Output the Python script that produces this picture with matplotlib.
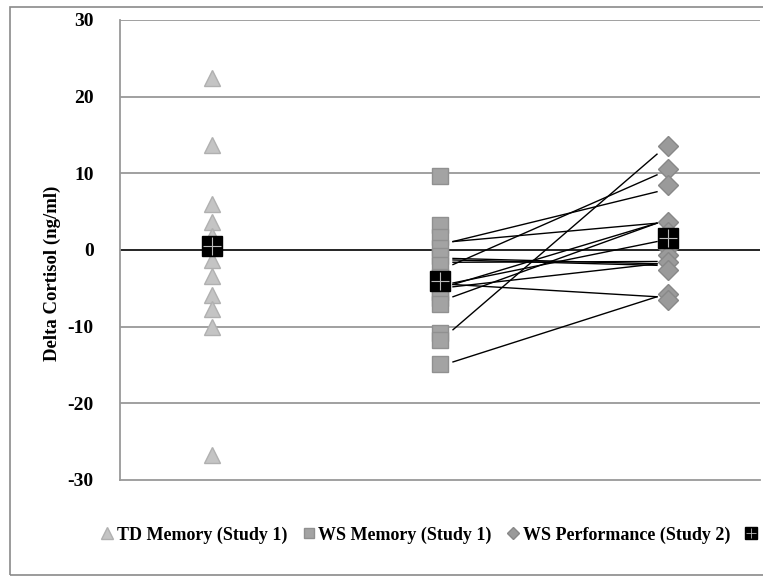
import numpy as np
import matplotlib
matplotlib.use('Agg')
import matplotlib.pyplot as plt
from matplotlib.lines import Line2D
from matplotlib.patches import Rectangle

# values
groups = ['TD Memory (Study 1)', 'WS Memory (Study 1)', 'WS Performance (Study 2)']
td_memory = [22.4, 13.7, 6.0, 3.7, 1.8, -1.3, -3.4, -5.9, -7.7, -10.1, -26.7]
ws_memory = [9.7, 3.2, 1.7, 0.3, -0.8, -2.0, -3.5, -5.5, -6.3, -7.0, -10.8, -11.8, -14.9]
ws_perf = [13.6, 10.6, 8.5, 3.6, 2.4, 0.3, -0.7, -1.5, -2.6, -5.8, -6.5]
group_means = [0.5, -4.0, 1.6]

# paired lines (memory -> performance)
pair_start = [-10.4, -1.9, 1.1, 1.1, -4.5, -6.1, -4.3, -1.1, -1.3, -1.6, -4.8, -4.5, -14.6]
pair_end = [12.5, 9.8, 7.6, 3.5, 3.5, 3.5, 1.1, -1.8, -2.0, -1.5, -1.8, -6.1, -6.1]

plt.rcParams['font.family'] = ['Liberation Serif', 'DejaVu Serif']
plt.rcParams['axes.unicode_minus'] = False

W, H = 763, 576
fig = plt.figure(figsize=(W / 100, H / 100), dpi=100)
ax = fig.add_axes([120 / W, (H - 480) / H, (760 - 120) / W, 460 / H])

fig.patches.append(Rectangle((10 / W, 1 / H), 1.0, (H - 7 - 1) / H, transform=fig.transFigure,
                             fill=False, edgecolor='#8a8a8a', linewidth=1.2, zorder=0))

# paired lines
for a, b in zip(pair_start, pair_end):
  ax.plot([2.057, 2.952], [a, b], color='black', linewidth=1.0, zorder=3)

ax.plot(np.full(len(td_memory), 1.0), td_memory, linestyle='none', marker='^', markersize=12,
        markerfacecolor='#c4c4c4', markeredgecolor='#b0b0b0', zorder=2)
ax.plot(np.full(len(ws_memory), 2.0), ws_memory, linestyle='none', marker='s', markersize=11,
        markerfacecolor='#a3a3a3', markeredgecolor='#909090', zorder=2)
ax.plot(np.full(len(ws_perf), 3.0), ws_perf, linestyle='none', marker='D', markersize=10,
        markerfacecolor='#9a9a9a', markeredgecolor='#888888', zorder=2)

# means: black square with white cross
ax.plot([1, 2, 3], group_means, linestyle='none', marker='s', markersize=14,
        markerfacecolor='black', markeredgecolor='black', zorder=4)
ax.plot([1, 2, 3], group_means, linestyle='none', marker='+', markersize=13,
        markeredgecolor='#bbbbbb', markeredgewidth=0.8, zorder=5)

ax.set_xlim(0.596, 3.404)
ax.set_ylim(-30, 30)
ax.set_yticks(np.arange(-30, 31, 10))
ax.set_xticks([])
ax.tick_params(axis='y', length=0, pad=19, labelsize=14)
for lbl in ax.get_yticklabels():
  lbl.set_fontweight('bold')

for y in [-20, -10, 10, 20, 30]:
  ax.axhline(y, color='#999999', linewidth=1.3, zorder=1)
ax.axhline(0, color='black', linewidth=1.2, zorder=1)

ax.spines['right'].set_visible(False)
ax.spines['top'].set_visible(False)
ax.spines['left'].set_color('#999999')
ax.spines['left'].set_linewidth(1.3)
ax.spines['bottom'].set_color('#999999')
ax.spines['bottom'].set_linewidth(1.3)

fig.text(52 / W, (H - 273) / H, 'Delta Cortisol (ng/ml)', rotation=90, ha='center', va='center',
         fontsize=13.5, fontweight='bold')

mean_handle = (
  Line2D([], [], linestyle='none', marker='s', markersize=8, markerfacecolor='black', markeredgecolor='black'),
  Line2D([], [], linestyle='none', marker='+', markersize=7, markeredgecolor='#bbbbbb', markeredgewidth=0.6),
)
handles = [
  Line2D([], [], linestyle='none', marker='^', markersize=8, markerfacecolor='#c4c4c4', markeredgecolor='#b0b0b0'),
  Line2D([], [], linestyle='none', marker='s', markersize=7.5, markerfacecolor='#a3a3a3', markeredgecolor='#909090'),
  Line2D([], [], linestyle='none', marker='D', markersize=6, markerfacecolor='#9a9a9a', markeredgecolor='#888888'),
  mean_handle,
]
fig.legend(handles, groups + [''], loc='center left', bbox_to_anchor=(93 / W, (H - 535) / H),
           ncol=4, frameon=False, handlelength=0.8, handletextpad=0.15, columnspacing=0.75,
           borderaxespad=0, prop={'family': 'Liberation Serif', 'weight': 'bold', 'size': 13})

fig.savefig('out.png', dpi=100)
